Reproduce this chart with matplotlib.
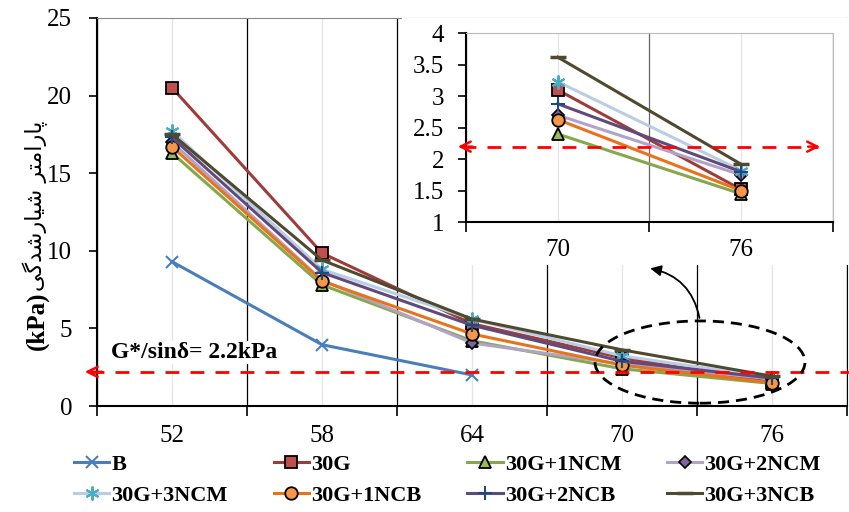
import matplotlib.pyplot as plt, numpy as np
from matplotlib.patches import Ellipse

# Data
temps = ['52', '58', '64', '70', '76']
inset_temps = ['70', '76']
nan = np.nan
b_vals = [9.3, 3.95, 2.0, nan, nan]
g30_vals = [20.5, 9.85, 5.3, 3.1, 1.52]
ncm1_vals = [16.3, 7.8, 4.2, 2.4, 1.45]
ncm2_vals = [17.0, 8.1, 4.06, 2.7, 1.75]
ncm3_vals = [17.7, 8.8, 5.6, 3.23, 1.82]
ncb1_vals = [16.7, 8.05, 4.64, 2.63, 1.5]
ncb2_vals = [17.3, 8.6, 5.2, 2.88, 1.8]
ncb3_vals = [17.5, 9.4, 5.6, 3.62, 1.92]
limit = 2.2

series = [
    ('B', b_vals, dict(color='#4A7EBB', marker='x', mec='#4A7EBB', ms=8, mew=1.5)),
    ('30G', g30_vals, dict(color='#9E3C3A', marker='s', mfc='#C0504D', mec='black', ms=9, mew=1.3)),
    ('30G+1NCM', ncm1_vals, dict(color='#86A84A', marker='^', mfc='#9BBB59', mec='black', ms=8, mew=1.3)),
    ('30G+2NCM', ncm2_vals, dict(color='#B3A2C7', marker='D', mfc='#8064A2', mec='black', ms=6, mew=1.2)),
    ('30G+3NCM', ncm3_vals, dict(color='#B9CDE5', marker=(6, 2, 0), mec='#4BACC6', ms=10, mew=1.5)),
    ('30G+1NCB', ncb1_vals, dict(color='#E8731C', marker='o', mfc='#F79646', mec='black', ms=9, mew=1.3)),
    ('30G+2NCB', ncb2_vals, dict(color='#604A7B', marker='+', mec='#1F497D', ms=10, mew=1.5)),
    ('30G+3NCB', ncb3_vals, dict(color='#4F4A2F', marker='_', mec='#4F4A2F', ms=12, mew=2.5)),
]

plt.rcParams['font.family'] = ['Liberation Serif', 'DejaVu Sans']
plt.rcParams['font.size'] = 18

fig = plt.figure(figsize=(8.49, 5.12), dpi=100)
ax = fig.add_axes([0.1143, 0.207, 0.8833, 0.758])
x = np.arange(len(temps))

handles = []
for name, vals, style in series:
    h, = ax.plot(x, vals, lw=2.2, label=name, **style)
    handles.append(h)

ax.set_xlim(-0.5, len(temps) - 0.5)
ax.set_ylim(0, 25)
ax.set_yticks(np.arange(0, 26, 5))
ax.set_xticks(np.arange(-0.5, len(temps), 1.0))
ax.set_xticklabels([])
ax.set_xticks(x, minor=True)
ax.set_xticklabels(temps, minor=True)
ax.tick_params(axis='x', which='major', length=7, width=1.2, direction='out')
ax.tick_params(axis='x', which='minor', length=0, pad=14)
ax.tick_params(axis='y', length=6, width=1.2, pad=12)
ax.grid(axis='x', which='major', color='black', lw=0.9)
ax.grid(axis='x', which='minor', color='#E6E6E6', lw=1.0)
ax.set_axisbelow(True)
for s in ['left', 'bottom']:
    ax.spines[s].set_linewidth(1.5)
ax.spines['top'].set_color('#888888')
ax.spines['right'].set_color('black')

# limit line with arrows
ax.plot([-0.55, 4.6], [limit, limit], color='red', ls=(0, (5, 4)), lw=2, clip_on=False, zorder=5)
ax.annotate('', xy=(-0.6, limit), xytext=(-0.45, limit),
            arrowprops=dict(arrowstyle='->', color='red', lw=1.8), annotation_clip=False)
ax.text(-0.41, 3.45, 'G*/sin\u03b4= 2.2kPa', fontsize=17, fontweight='bold', va='center',
        ha='left', bbox=dict(facecolor='white', edgecolor='none', pad=1), zorder=4)

# ellipse around the last two points
ax.add_patch(Ellipse((3.52, 2.83), 1.40, 5.3, fill=False, ls=(0, (4, 2.5)), lw=2, color='black', zorder=6))
ax.annotate('', xy=(3.17, 8.9), xytext=(3.52, 5.5),
            arrowprops=dict(arrowstyle='-|>', color='black', lw=1.3,
                            connectionstyle='arc3,rad=0.35', mutation_scale=16))

# y label: Persian text shaped by hand (visual order)
persian = '\uFEF0\uFB94\uFEAA\uFEB7\uFEAD\uFE8E\uFEF4\uFEB7 \uFEAE\uFE98\uFEE3\uFE8D\uFEAD\uFE8E\uFB58'
fig.text(0.042, 0.598, persian, rotation=90, ha='center', va='center',
         fontsize=16, family='DejaVu Sans')
fig.text(0.044, 0.373, '(kPa)', rotation=90, ha='center', va='center',
         fontsize=18, fontweight='bold')

# inset
bg = fig.add_axes([0.4735, 0.482, 0.5265, 0.483])
bg.set_facecolor('white')
bg.set_xticks([])
bg.set_yticks([])
for s in bg.spines.values():
    s.set_visible(False)

ins = fig.add_axes([0.549, 0.566, 0.432, 0.369])
xi = np.arange(len(inset_temps))
for name, vals, style in series:
    ins.plot(xi, vals[3:], lw=2.2, **style)
ins.set_xlim(-0.5, len(inset_temps) - 0.5)
ins.set_ylim(1, 4)
ins.set_yticks(np.arange(1, 4.01, 0.5))
ins.set_yticklabels(['1', '1.5', '2', '2.5', '3', '3.5', '4'])
ins.set_xticks(np.arange(-0.5, len(inset_temps), 1.0))
ins.set_xticklabels([])
ins.set_xticks(xi, minor=True)
ins.set_xticklabels(inset_temps, minor=True)
ins.tick_params(axis='x', which='major', length=7, width=1.2, direction='out')
ins.tick_params(axis='x', which='minor', length=0, pad=12)
ins.tick_params(axis='y', length=6, width=1.2, pad=10)
ins.grid(axis='x', which='major', color='#666666', lw=0.9)
ins.grid(axis='x', which='minor', color='#E6E6E6', lw=1.0)
ins.set_axisbelow(True)
for s in ['left', 'bottom']:
    ins.spines[s].set_linewidth(1.5)
ins.spines['top'].set_color('#BBBBBB')
ins.spines['right'].set_color('#BBBBBB')
ins.plot([-0.52, 1.42], [limit, limit], color='red', ls=(0, (5, 4)), lw=2, clip_on=False)
ins.annotate('', xy=(-0.56, limit), xytext=(-0.45, limit),
             arrowprops=dict(arrowstyle='->', color='red', lw=1.8), annotation_clip=False)
ins.annotate('', xy=(1.445, limit), xytext=(1.35, limit),
             arrowprops=dict(arrowstyle='->', color='red', lw=1.8), annotation_clip=False)

# legend, row-major order like the original
order = [0, 4, 1, 5, 2, 6, 3, 7]
fig.legend([handles[i] for i in order], [series[i][0] for i in order],
           loc='lower center', bbox_to_anchor=(0.527, -0.027), ncol=4, frameon=False,
           prop=dict(weight='bold', size=16), handlelength=1.6, handletextpad=0.1,
           columnspacing=2.05, labelspacing=0.48)

fig.savefig('out.png', dpi=100)
